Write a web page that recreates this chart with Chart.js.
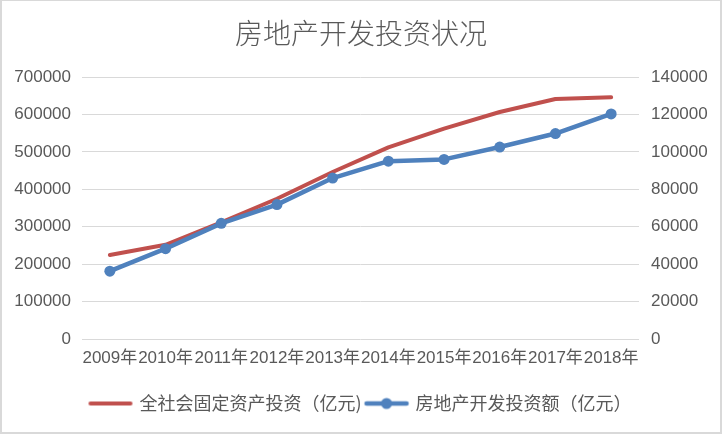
<!DOCTYPE html>
<html>
<head>
<meta charset="utf-8">
<script src="https://cdn.jsdelivr.net/npm/chart.js@4/dist/chart.umd.min.js"></script>
<style>
    html, body {
        margin: 0;
        padding: 0;
        background: #ffffff;
    }

    .frame {
        width: 722px;
        height: 434px;
        box-sizing: border-box;
        border: 2px solid #d9d9d9;
        border-top-width: 1px;
        background: #ffffff;
    }

    canvas {
        display: block;
    }
</style>
</head>
<body>
<div class="frame">
    <canvas id="chart" width="718" height="431"></canvas>
</div>
<script>
// 数据
const years = ['2009年', '2010年', '2011年', '2012年', '2013年', '2014年', '2015年', '2016年', '2017年', '2018年'];
const fixedAssetInvestment = [224599, 251684, 311485, 374695, 446294, 512021, 561999, 606466, 641238, 645675];
const realEstateInvestment = [36242, 48259, 61797, 71804, 86013, 95036, 95979, 102581, 109799, 120264];

const seriesNames = ['全社会固定资产投资（亿元)', '房地产开发投资额（亿元）'];
const leftTicks = { min: 0, max: 700000, step: 100000 };
const rightTicks = { min: 0, max: 140000, step: 20000 };

const RED = '#C0504D';
const BLUE = '#4F81BD';
const TEXT = '#595959';
const GRID = '#d9d9d9';

// Legend icons: line, and line with marker
function makeIcon(color, lineWidth, marker) {
    const c = document.createElement('canvas');
    c.width = 48;
    c.height = 14;
    const g = c.getContext('2d');
    g.strokeStyle = color;
    g.lineWidth = lineWidth;
    g.lineCap = 'round';
    g.beginPath();
    g.moveTo(4, 7);
    g.lineTo(44, 7);
    g.stroke();
    if (marker) {
        g.fillStyle = color;
        g.beginPath();
        g.arc(24, 7, 5.5, 0, Math.PI * 2);
        g.fill();
    }
    return c;
}
const legendIcons = [makeIcon(RED, 4, false), makeIcon(BLUE, 4.5, true)];

const tickFont = { family: '"Liberation Sans", "Noto Sans CJK SC", sans-serif', size: 17 };

new Chart(document.getElementById('chart'), {
    type: 'line',
    data: {
        labels: years,
        datasets: [
            {
                label: seriesNames[0],
                data: fixedAssetInvestment,
                yAxisID: 'y',
                borderColor: RED,
                backgroundColor: RED,
                borderWidth: 4,
                borderCapStyle: 'round',
                borderJoinStyle: 'round',
                pointRadius: 0,
                tension: 0,
                order: 1,
            },
            {
                label: seriesNames[1],
                data: realEstateInvestment,
                yAxisID: 'y1',
                borderColor: BLUE,
                backgroundColor: BLUE,
                borderWidth: 4.5,
                borderCapStyle: 'round',
                borderJoinStyle: 'round',
                pointRadius: 5.5,
                pointBorderWidth: 0,
                pointBackgroundColor: BLUE,
                tension: 0,
                order: 0,
            },
        ],
    },
    options: {
        responsive: false,
        animation: false,
        layout: { padding: { left: 0, right: 0, top: 0, bottom: 9.5 } },
        plugins: {
            title: {
                display: true,
                text: '房地产开发投资状况',
                color: TEXT,
                font: { family: '"Noto Sans CJK SC", sans-serif', size: 28, weight: 300 },
                padding: { top: 15.2, bottom: 27.2 },
            },
            legend: {
                position: 'bottom',
                labels: {
                    color: TEXT,
                    font: { family: '"Noto Sans CJK SC", sans-serif', size: 18 },
                    usePointStyle: true,
                    pointStyleWidth: 40,
                    padding: 5,
                    generateLabels(chart) {
                        const items = Chart.defaults.plugins.legend.labels.generateLabels(chart);
                        items.forEach((it) => { it.pointStyle = legendIcons[it.datasetIndex]; });
                        items.sort((a, b) => a.datasetIndex - b.datasetIndex);
                        return items;
                    },
                },
            },
            tooltip: { enabled: false },
        },
        scales: {
            x: {
                offset: true,
                grid: { display: false, drawTicks: false },
                border: { display: false },
                ticks: {
                    color: TEXT,
                    font: tickFont,
                    padding: 9,
                    autoSkip: false,
                    maxRotation: 0,
                    minRotation: 0,
                },
                afterFit(scale) { scale.height = 50.5; },
            },
            y: {
                position: 'left',
                min: leftTicks.min,
                max: leftTicks.max,
                grid: { color: GRID, lineWidth: 1, drawTicks: false },
                border: { display: false },
                ticks: {
                    stepSize: leftTicks.step,
                    color: TEXT,
                    font: tickFont,
                    padding: 11,
                    callback: (v) => String(v),
                },
                afterFit(scale) { scale.width = 80; },
            },
            y1: {
                position: 'right',
                min: rightTicks.min,
                max: rightTicks.max,
                grid: { display: false, drawTicks: false },
                border: { display: false },
                ticks: {
                    stepSize: rightTicks.step,
                    color: TEXT,
                    font: tickFont,
                    padding: 12,
                    callback: (v) => String(v),
                },
                afterFit(scale) { scale.width = 81; },
            },
        },
    },
});
</script>
</body>
</html>
